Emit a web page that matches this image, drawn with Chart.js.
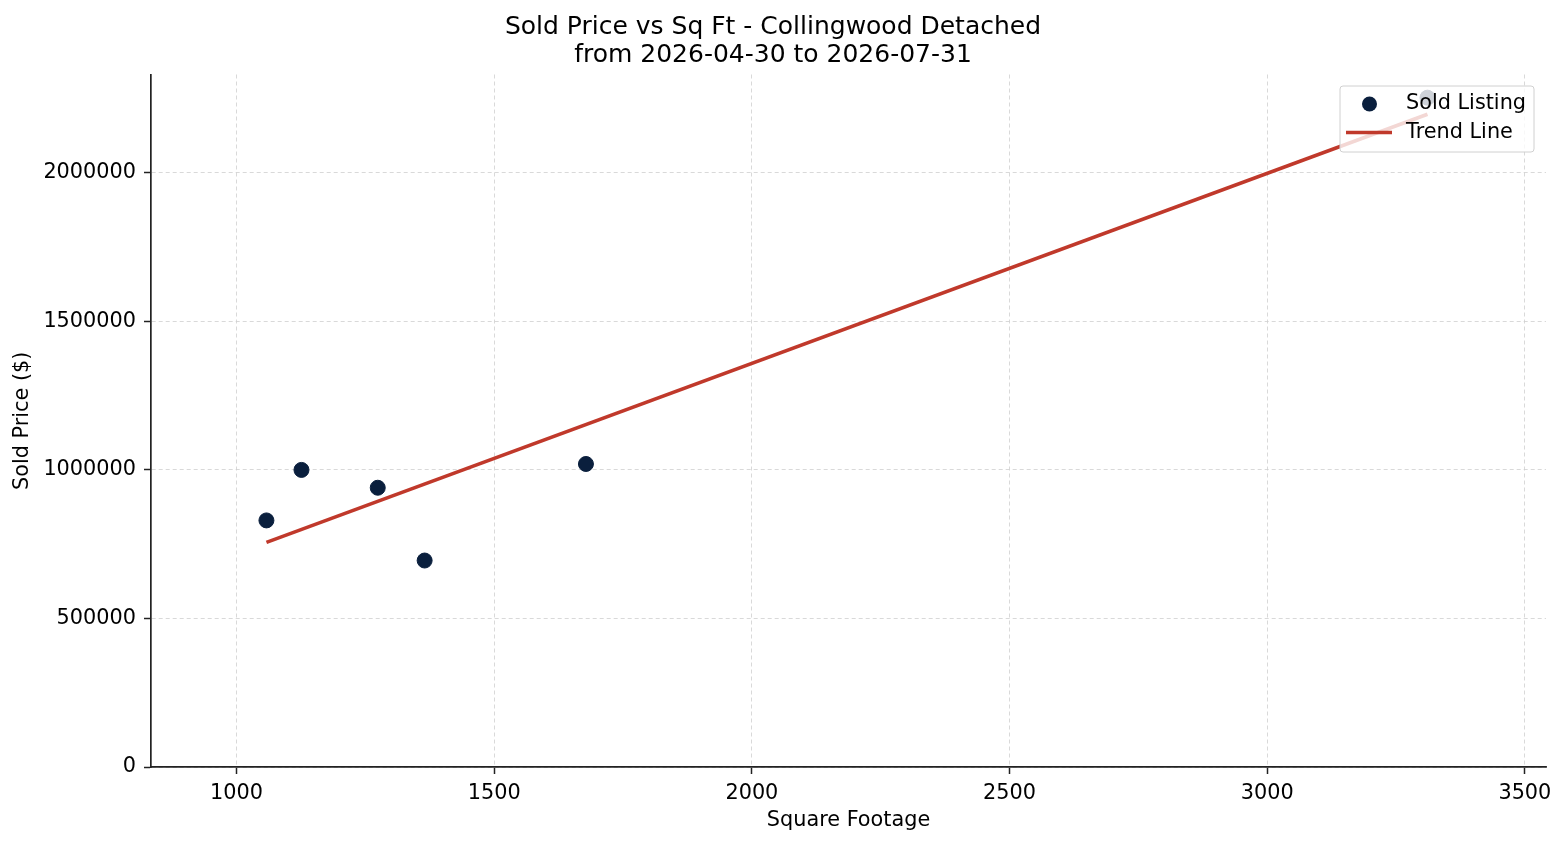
<!DOCTYPE html>
<html>
<head>
<meta charset="utf-8">
<title>Sold Price vs Sq Ft</title>
<script src="https://cdn.jsdelivr.net/npm/chart.js@4.4.0/dist/chart.umd.min.js"></script>
<style>
  html, body { margin: 0; padding: 0; background: #fff; }
  #wrap { width: 1566px; height: 845px; }
</style>
</head>
<body>
<div id="wrap"><canvas id="soldPriceChart" width="1566" height="845"></canvas></div>
<script>
// sold listings
const sqftValues = [1058, 1126, 1274, 1365, 1678, 3311];
const soldPrices = [830000, 1000000, 940000, 695000, 1020000, 2253000];

// trend line end points
const trendSqft = [1058, 3311];
const trendPrices = [756000, 2197000];

const titleLines = ['Sold Price vs Sq Ft - Collingwood Detached', 'from 2026-04-30 to 2026-07-31'];
const xTicks = [1000, 1500, 2000, 2500, 3000, 3500];
const yTicks = [0, 500000, 1000000, 1500000, 2000000];
const xRange = [834, 3541];
const yRange = [0, 2331000];

const FONT = 'DejaVu Sans';
const navy = '#0a1f3d';
const red = '#c0392b';

// matplotlib-style legend drawn inside the plot, over the data
const overlayLegend = {
    id: 'overlayLegend',
    afterDatasetsDraw(chart) {
        const { ctx, chartArea } = chart;
        const w = 194, h = 66;
        const x = chartArea.right - 12 - w;
        const y = chartArea.top + 11.5;
        const ds = chart.data.datasets;

        ctx.save();
        ctx.beginPath();
        ctx.roundRect(x, y, w, h, 3);
        ctx.fillStyle = 'rgba(255,255,255,0.8)';
        ctx.fill();
        ctx.strokeStyle = '#d0d0d0';
        ctx.lineWidth = 1;
        ctx.stroke();

        // scatter marker
        ctx.beginPath();
        ctx.arc(x + 29.5, y + 18, 7.5, 0, Math.PI * 2);
        ctx.fillStyle = navy;
        ctx.fill();

        // trend line sample
        ctx.beginPath();
        ctx.moveTo(x + 6, y + 46.5);
        ctx.lineTo(x + 52, y + 46.5);
        ctx.strokeStyle = red;
        ctx.lineWidth = 3.4;
        ctx.stroke();

        ctx.fillStyle = '#000';
        ctx.font = '20.8px "' + FONT + '"';
        ctx.textBaseline = 'middle';
        ctx.textAlign = 'left';
        ctx.fillText(ds[0].label, x + 66, y + 17.5);
        ctx.fillText(ds[1].label, x + 66, y + 46.5);
        ctx.restore();
    }
};

const ctx = document.getElementById('soldPriceChart').getContext('2d');

const gridOpts = {
    color: '#cfcfcf',
    lineWidth: 0.8,
    tickColor: '#222',
    tickLength: 7,
    tickWidth: 1.5,
    tickBorderDash: []
};
const borderOpts = { display: true, color: '#222', width: 1.7, dash: [4, 3] };

new Chart(ctx, {
    type: 'scatter',
    data: {
        datasets: [{
            label: 'Sold Listing',
            data: sqftValues.map((s, i) => ({ x: s, y: soldPrices[i] })),
            backgroundColor: navy,
            borderColor: navy,
            pointRadius: 7.5,
            pointHoverRadius: 7.5,
            order: 2
        }, {
            label: 'Trend Line',
            data: trendSqft.map((s, i) => ({ x: s, y: trendPrices[i] })),
            showLine: true,
            borderColor: red,
            backgroundColor: red,
            borderWidth: 3.6,
            pointRadius: 0,
            fill: false,
            order: 1
        }]
    },
    options: {
        responsive: false,
        animation: false,
        devicePixelRatio: 1,
        layout: { padding: { top: 0, left: 0, right: 20, bottom: 0 } },
        plugins: {
            legend: { display: false },
            tooltip: { enabled: false },
            title: {
                display: true,
                text: titleLines,
                color: '#000',
                font: { family: FONT, size: 25, weight: 'normal', lineHeight: 1.12 },
                padding: { top: 13, bottom: 5.5 }
            }
        },
        scales: {
            x: {
                type: 'linear',
                min: xRange[0],
                max: xRange[1],
                afterBuildTicks(scale) { scale.ticks = xTicks.map(v => ({ value: v })); },
                afterFit(scale) { scale.height = 78; },
                border: borderOpts,
                grid: gridOpts,
                ticks: {
                    maxRotation: 0,
                    autoSkip: false,
                    padding: 7,
                    color: '#000',
                    font: { family: FONT, size: 20.8 },
                    callback: v => String(v)
                },
                title: {
                    display: true,
                    text: 'Square Footage',
                    color: '#000',
                    font: { family: FONT, size: 20.8, lineHeight: 1.2 },
                    padding: { top: 0, bottom: 11.5 }
                }
            },
            y: {
                type: 'linear',
                min: yRange[0],
                max: yRange[1],
                afterBuildTicks(scale) { scale.ticks = yTicks.map(v => ({ value: v })); },
                afterFit(scale) { scale.width = 151; },
                border: borderOpts,
                grid: gridOpts,
                ticks: {
                    autoSkip: false,
                    padding: 8,
                    color: '#000',
                    font: { family: FONT, size: 20.8 },
                    callback: v => String(v)
                },
                title: {
                    display: true,
                    text: 'Sold Price ($)',
                    color: '#000',
                    font: { family: FONT, size: 20.8, lineHeight: 1.2 },
                    padding: { top: 10.5, bottom: 0 }
                }
            }
        }
    },
    plugins: [overlayLegend]
});
</script>
</body>
</html>
